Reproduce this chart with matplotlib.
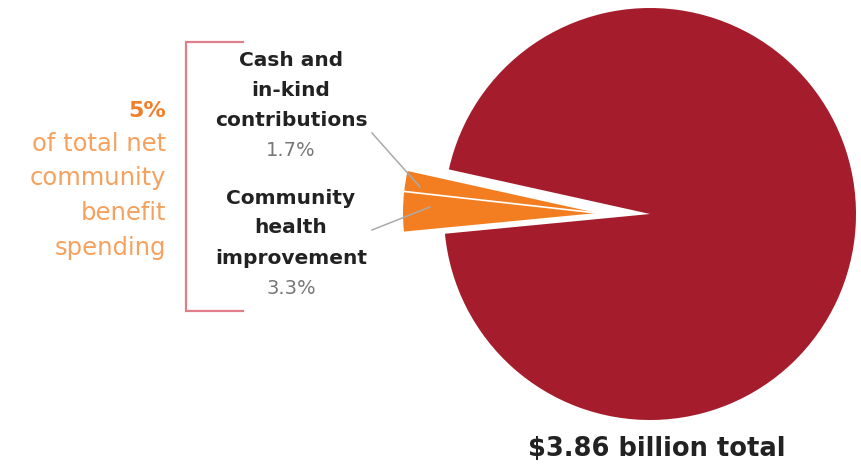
import matplotlib
matplotlib.use('Agg')
import numpy as np
import matplotlib.pyplot as plt

# data
categories = ['Cash and\nin-kind\ncontributions', 'Community\nhealth\nimprovement', 'Other']
shares = [1.7, 3.3, 95.0]
share_labels = ['1.7%', '3.3%']
colors = ['#F37E22', '#F37E22', '#A51D2C']
total_label = '$3.86 billion total'

W, H = 862, 468
fig = plt.figure(figsize=(W / 100, H / 100), dpi=100)
ax = fig.add_axes([0, 0, 1, 1])

# pixel (top-left origin) -> data
def P(x, y):
    return (x, H - y)

R = 206
start = 167.5
wedges, _ = ax.pie(shares, colors=colors, startangle=start, counterclock=True,
                   radius=R, center=P(650, 214), frame=True,
                   wedgeprops=dict(linewidth=0))
# pull the two small slices out together, slightly smaller radius
tip = P(597, 213)
r_small = 194
for w in wedges[:2]:
    w.set_center(tip)
    w.set_radius(r_small)
# thin white divider between the two orange slices
a = np.deg2rad(start + shares[0] * 3.6)
ax.plot([tip[0], tip[0] + r_small * np.cos(a)], [tip[1], tip[1] + r_small * np.sin(a)],
        color='white', lw=1.2)
ax.set_xlim(0, W)
ax.set_ylim(0, H)
ax.set_aspect('equal')
ax.axis('off')

# bracket
br = '#E27D8A'
ax.plot([243, 186, 186, 243], [H - 42, H - 42, H - 311, H - 311], color=br, lw=1.6,
        solid_joinstyle='miter')

# left orange note
ax.text(*P(166, 111), '5%', color='#F07F2A', fontsize=16, fontweight='bold',
        ha='right', va='center')
for i, t in enumerate(['of total net', 'community', 'benefit', 'spending']):
    ax.text(*P(166, 144 + 34.5 * i), t, color='#F6A15E', fontsize=17.5,
            ha='right', va='center')

# slice labels
dark = '#222222'
lab_x = 291
for lines, y0, pct in [(categories[0], 61, share_labels[0]), (categories[1], 198, share_labels[1])]:
    for j, ln in enumerate(lines.split('\n')):
        ax.text(*P(lab_x, y0 + 30 * j), ln, color=dark, fontsize=14.5, fontweight='bold',
                ha='center', va='center')
    ax.text(*P(lab_x, y0 + 90), pct, color='#777777', fontsize=14,
            ha='center', va='center')

# leader lines
ax.plot([372, 420], [H - 133, H - 187], color='#AAAAAA', lw=1.1)
ax.plot([372, 430], [H - 230, H - 207], color='#AAAAAA', lw=1.1)

ax.text(*P(657, 449), total_label, color=dark, fontsize=18.5, fontweight='bold',
        ha='center', va='center')

fig.savefig('out.png', dpi=100, facecolor='white')
